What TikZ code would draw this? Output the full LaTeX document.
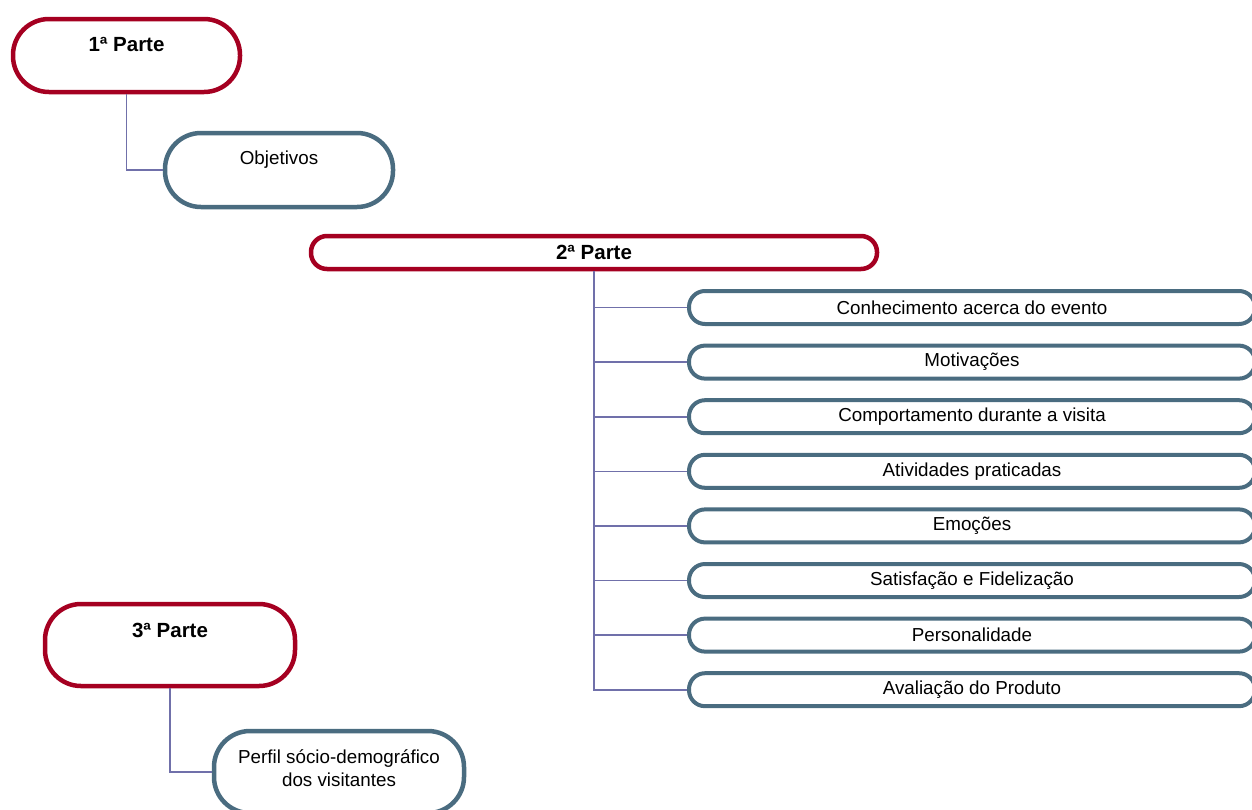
\documentclass[tikz,border=0pt]{standalone}
\usepackage{fontspec}
\setmainfont{Liberation Sans}
\usetikzlibrary{positioning}
\definecolor{parteRed}{RGB}{165,0,33}
\definecolor{itemBlue}{RGB}{74,108,128}
\definecolor{linkPurple}{RGB}{112,112,170}

\begin{document}
\begin{tikzpicture}[x=1pt, y=-1pt,
    parte/.style={rectangle, draw=parteRed, line width=4.5pt, fill=white, inner sep=0pt, align=center, font=\fontsize{20.5}{24}\selectfont\bfseries},
    item/.style={rectangle, draw=itemBlue, line width=4.5pt, fill=white, inner sep=0pt, align=center, font=\fontsize{18.8}{23}\selectfont},
    tallbox/.style={rounded corners=36pt, text height=15pt, text depth=#1},
    flatbox/.style={rounded corners=16pt, minimum width=566pt, minimum height=33pt},
    link/.style={draw=linkPurple, line width=1.6pt}
]
\useasboundingbox (0,0) rectangle (1252,809);

% 1a Parte - top left
\node[parte, tallbox=24pt, minimum width=227pt, minimum height=73pt] (parte1) at (126.5,55.5) {1ª Parte};
\node[item, tallbox=27pt, minimum width=228pt, minimum height=74pt] (objetivos) at (279,170) {Objetivos};

% 2a Parte - middle, with its list of topics
\node[parte, flatbox] (parte2) at (594,252.5) {2ª Parte};
\foreach \txt [count=\i] in {Conhecimento acerca do evento, Motivações, Comportamento durante a visita, Atividades praticadas, Emoções, Satisfação e Fidelização, Personalidade, Avaliação do Produto}
    \node[item, line width=4pt, flatbox] (topic\i) at (972,{307.5+54.6*(\i-1)}) {\txt};

% 3a Parte - bottom left
\node[parte, tallbox=31pt, minimum width=250pt, minimum height=82pt] (parte3) at (170,645) {3ª Parte};
\node[item, tallbox=10pt, text height=38pt, minimum width=250pt, minimum height=82pt] (perfil) at (339,772) {Perfil sócio-demográfico\\dos visitantes};

% Connectors
\draw[link] (parte1.south) |- (objetivos.west);
\draw[link] (parte3.south) |- (perfil.west);
\draw[link, line width=2pt] (parte2.south) |- (topic8.west);
\foreach \i in {1,...,7}
    \draw[link] (parte2.south |- topic\i.west) -- (topic\i.west);

\end{tikzpicture}
\end{document}
